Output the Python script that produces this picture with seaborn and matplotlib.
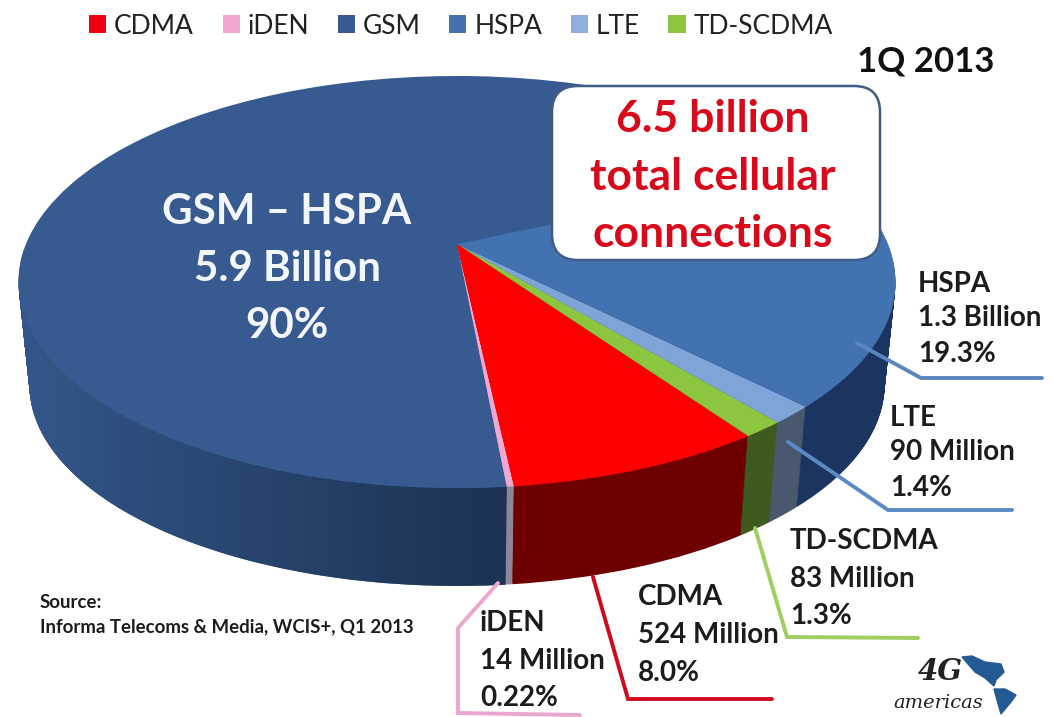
#!/usr/bin/env python3
import numpy as np
import matplotlib
matplotlib.use('Agg')
import matplotlib.pyplot as plt
import matplotlib.transforms as mtransforms
from matplotlib.patches import FancyBboxPatch, Patch, Polygon
import seaborn as sns

# values in percent, in pie order (counterclockwise from the GSM/HSPA edge)
technologies = ["GSM", "iDEN", "CDMA", "TD-SCDMA", "LTE", "HSPA"]
shares = [69.78, 0.22, 8.0, 1.3, 1.4, 19.3]
top_colors = ["#375a90", "#f2a6d2", "#ff0000", "#8cc63f", "#7fa4d8", "#4272b0"]
wall_colors = ["#31558a", "#8b8798", "#6e0000", "#3f5a1e", "#49576f", "#1b3560"]

legend_names = ["CDMA", "iDEN", "GSM", "HSPA", "LTE", "TD-SCDMA"]
legend_colors = ["#ee0011", "#f2a6d2", "#375a90", "#4670b0", "#8db0de", "#8cc63f"]

labels = {
    "HSPA": ["HSPA", "1.3 Billion", "19.3%"],
    "LTE": ["LTE", "90 Million", "1.4%"],
    "TD-SCDMA": ["TD-SCDMA", "83 Million", "1.3%"],
    "CDMA": ["CDMA", "524 Million", "8.0%"],
    "iDEN": ["iDEN", "14 Million", "0.22%"],
}
label_pos = {
    "HSPA": (918, [284, 318, 354]),
    "LTE": (890, [418, 452, 488]),
    "TD-SCDMA": (790, [541, 579, 616]),
    "CDMA": (638, [597, 635, 673]),
    "iDEN": (480, [623, 661, 698]),
}
leaders = {
    "HSPA": ([857, 921, 1042], [343, 378, 378], "#5b86bd"),
    "LTE": ([788, 888, 1012], [442, 510, 510], "#5b8ac6"),
    "TD-SCDMA": ([755, 787, 918], [528, 637, 638], "#9fcf60"),
    "CDMA": ([593, 628, 772], [577, 699, 699], "#cf0a1e"),
    "iDEN": ([498, 458, 458, 580], [583, 628, 713, 715], "#eba6d0"),
}

# shading of the GSM side wall, from left to right
wall_shade_x = [20, 150, 300, 450, 515]
wall_shade_r = [52, 44, 37, 31, 29]
wall_shade_g = [88, 76, 66, 54, 50]
wall_shade_b = [138, 122, 105, 88, 84]

START_ANGLE = 24.2
CX, CY = 457, 244
A, B, K = 199, 431, 0.1845
DEPTH, SHRINK = 104, 0.025


class Perspective(mtransforms.Transform):
    """Tilts the unit pie into picture space; t=0 top face, t=1 bottom face."""
    input_dims = output_dims = 2

    def __init__(self, t=0.0):
        super().__init__()
        self.t = t

    def transform_non_affine(self, values):
        u, v = np.asarray(values).T
        s = 1 - SHRINK * self.t
        d = 1 + K * v
        return np.column_stack([CX + B * s * u / d,
                                CY + DEPTH * self.t - A * s * v / d])


def draw_pie(ax, colors, t, zorder):
    wedges, _ = ax.pie(shares, colors=colors, startangle=START_ANGLE,
                       counterclock=True, radius=1)
    for w in wedges:
        w.set_transform(Perspective(t) + ax.transData)
        w.set_edgecolor("none")
        w.set_linewidth(0)
        w.set_zorder(zorder)


def rim(angles, t):
    rad = np.radians(angles)
    return Perspective(t).transform_non_affine(
        np.column_stack([np.cos(rad), np.sin(rad)]))


def main():
    sns.set_theme(style="white")
    plt.rcParams['font.family'] = ['Lato', 'DejaVu Sans']

    fig = plt.figure(figsize=(10.54, 7.17), dpi=100)
    ax = fig.add_axes([0, 0, 1, 1])

    # side wall, stacked from the bottom up, then the top face
    for t in np.linspace(1, 0.01, 105):
        draw_pie(ax, wall_colors, t, 1)

    gsm_end = START_ANGLE + shares[0] * 3.6
    arc = np.linspace(120, gsm_end, 120)
    clip = Polygon(np.vstack([rim(arc, 0), rim(arc[::-1], 1)]),
                   closed=True, transform=ax.transData, fc="none", ec="none")
    ax.add_patch(clip)
    xs = np.linspace(wall_shade_x[0], wall_shade_x[-1], 256)
    shade = np.stack([np.interp(xs, wall_shade_x, c) for c in
                      (wall_shade_r, wall_shade_g, wall_shade_b)], axis=-1) / 255
    im = ax.imshow(shade[None, :, :], aspect='auto', zorder=2,
                   extent=(xs[0], xs[-1], 600, 250))
    im.set_clip_path(clip)

    draw_pie(ax, top_colors, 0, 3)

    ax.set_aspect('auto')
    ax.set_xlim(0, 1054)
    ax.set_ylim(717, 0)
    ax.set_axis_off()

    # leader lines
    for name, (lx, ly, color) in leaders.items():
        ax.plot(lx, ly, color=color, lw=2.8, zorder=4, solid_joinstyle='miter')

    # callout
    ax.add_patch(FancyBboxPatch((576, 110), 280, 126,
                                boxstyle="round,pad=24,rounding_size=26",
                                fc="white", ec="#3f5c86", lw=1.8, zorder=5))
    for text, y in zip(["6.5 billion", "total cellular", "connections"], [119, 177, 234]):
        ax.text(713, y, text, color="#d8091a", fontsize=32, fontweight='bold',
                ha='center', va='center', zorder=6)

    for text, y in zip(["GSM – HSPA", "5.9 Billion", "90%"], [212, 269, 326]):
        ax.text(287, y, text, color="#f2f5fa", fontsize=30.3, fontweight='bold',
                ha='center', va='center', zorder=6)

    ax.text(926, 61, "1Q 2013", color="#111111", fontsize=25, fontweight='bold',
            ha='center', va='center', zorder=6)

    for name, lines in labels.items():
        x, ys = label_pos[name]
        for text, y in zip(lines, ys):
            ax.text(x, y, text, color="#1c1c1c", fontsize=20, fontweight='bold',
                    ha='left', va='center', zorder=6)

    ax.text(40, 603, "Source:", color="#1c1c1c", fontsize=13.4, fontweight='bold',
            ha='left', va='center')
    ax.text(40, 627, "Informa Telecoms & Media, WCIS+, Q1 2013", color="#1c1c1c",
            fontsize=13.4, fontweight='bold', ha='left', va='center')

    # legend across the top
    handles = [Patch(fc=c, ec="none", label=n) for n, c in zip(legend_names, legend_colors)]
    leg = ax.legend(handles=handles, ncol=6, loc='center', bbox_to_anchor=(461 / 1054, 1 - 26 / 717),
                    bbox_transform=ax.transAxes, frameon=False, fontsize=19,
                    handlelength=0.65, handleheight=0.65, handletextpad=0.3,
                    columnspacing=1.08, borderpad=0)
    for txt in leg.get_texts():
        txt.set_color("#222222")

    # logo
    ax.text(940, 672, "4G", color="#222222", fontsize=21, style='italic', fontweight='bold',
            family='DejaVu Serif', ha='center', va='center')
    ax.text(938, 703, "americas", color="#222222", fontsize=14, style='italic',
            family='DejaVu Serif', ha='center', va='center')
    ax.fill([962, 972, 985, 1001, 1004, 996, 994, 985, 975, 968],
            [657, 656, 662, 664, 672, 680, 686, 678, 672, 664], color="#245a93", zorder=6)
    ax.fill([994, 1005, 1016, 1011, 1001, 997],
            [689, 689, 695, 702, 714, 700], color="#245a93", zorder=6)

    fig.savefig("out.png", dpi=100, facecolor="white")
    plt.close(fig)


if __name__ == "__main__":
    main()
